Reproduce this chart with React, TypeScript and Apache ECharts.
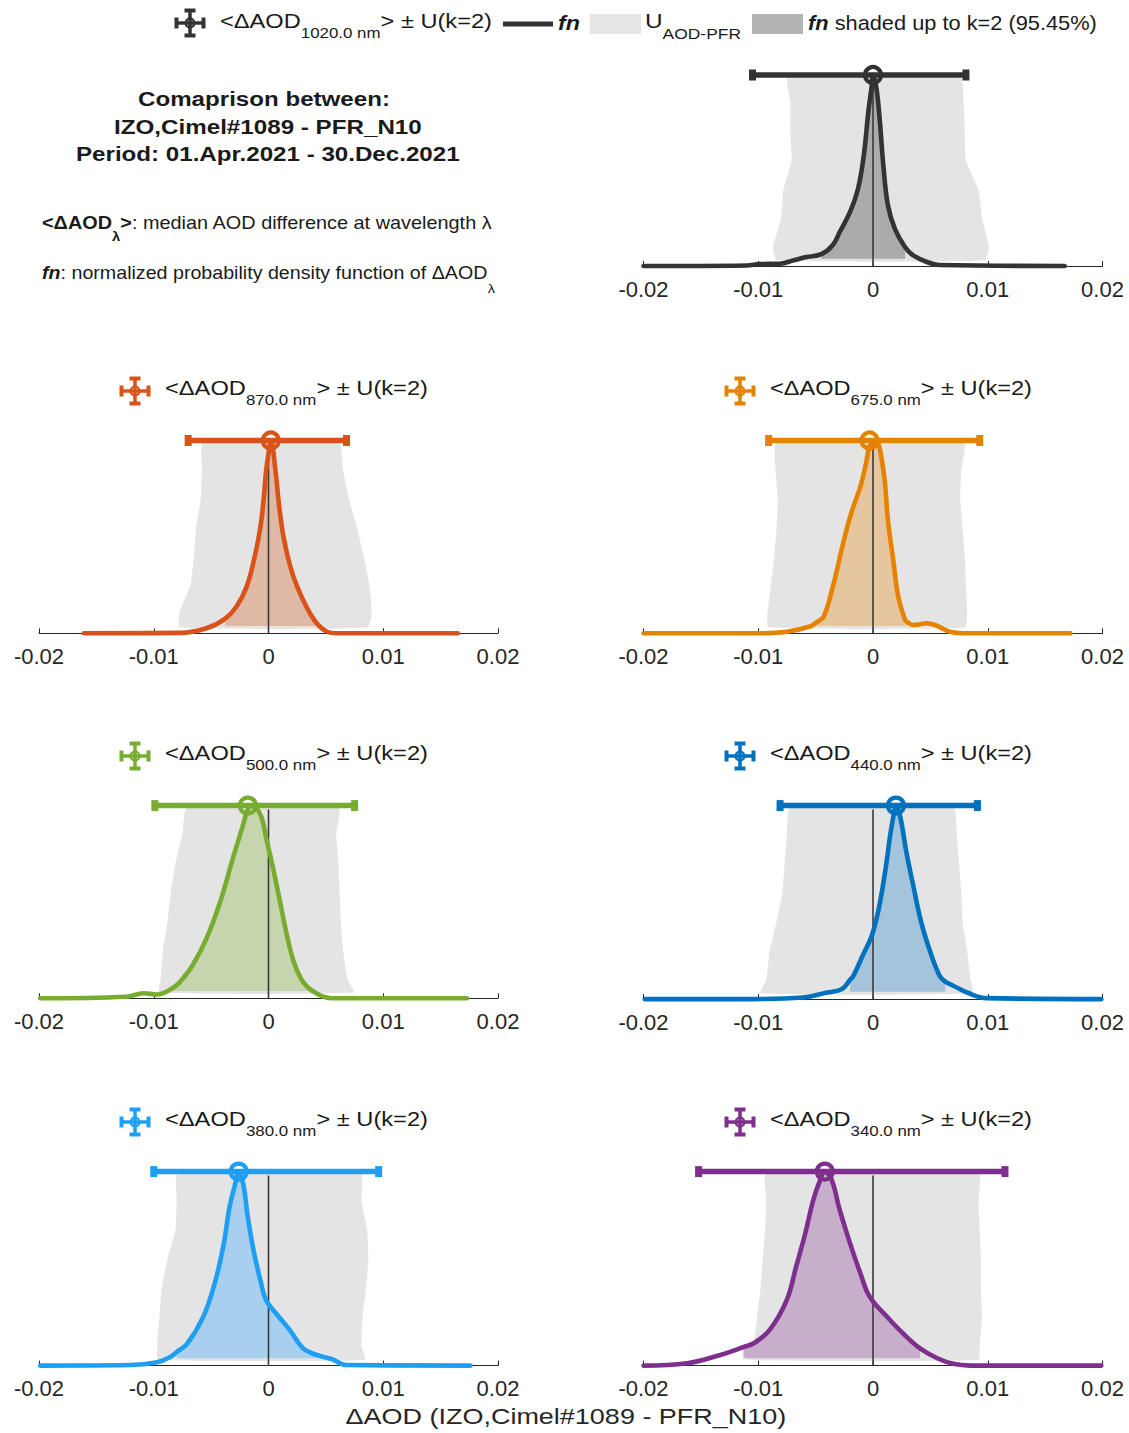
import React, { useEffect, useRef } from 'react';
import * as echarts from 'echarts';

// ---------------- data ----------------
const wavelengths = ['1020.0', '870.0', '675.0', '500.0', '440.0', '380.0', '340.0'];
const xTickLabels = ['-0.02', '-0.01', '0', '0.01', '0.02'];
const X_MIN = -0.02;
const X_MAX = 0.02;
const X_STEP = 0.01;

// median AOD difference and U(k=2) limits
const medianDAOD = [0.0, 0.0002, -0.0003, -0.0018, 0.002, -0.0026, -0.0042];
const uLow = [-0.0105, -0.007, -0.0091, -0.0099, -0.0081, -0.01, -0.0152];
const uHigh = [0.0081, 0.0068, 0.0093, 0.0075, 0.0091, 0.0096, 0.0115];
// fn shaded up to k=2 (95.45 %)
const k2Low = [-0.0045, -0.0038, -0.0049, -0.0083, -0.002, -0.008, -0.0113];
const k2High = [0.0028, 0.0042, 0.003, 0.004, 0.0063, 0.0055, 0.0041];
const FILL_BASE = 0.038;
const ERR_Y = 1;
const ZERO_REF = 0;
const ZERO_TOP = 0.98;

// normalized pdf curves [dAOD, fn]
const fn1020 = [[-0.02, 0], [-0.011, 0.003], [-0.0099, 0.01], [-0.0081, 0.012], [-0.0069, 0.03], [-0.0058, 0.047], [-0.0045, 0.062], [-0.0035, 0.11], [-0.0029, 0.178], [-0.002, 0.283], [-0.0013, 0.406], [-0.0008, 0.58], [-0.0004, 0.81], [-0.0001, 0.948], [0.0, 1.0], [0.0003, 0.93], [0.0006, 0.755], [0.0009, 0.528], [0.0013, 0.318], [0.0019, 0.196], [0.0028, 0.098], [0.0035, 0.056], [0.0047, 0.021], [0.0058, 0.005], [0.0167, 0]];
const fn870 = [[-0.0161, 0], [-0.0077, 0.002], [-0.0054, 0.026], [-0.0038, 0.075], [-0.0028, 0.138], [-0.0019, 0.242], [-0.0012, 0.398], [-0.0007, 0.553], [-0.0004, 0.709], [-0.0002, 0.848], [0.0001, 0.97], [0.0002, 1.0], [0.0006, 0.848], [0.0009, 0.675], [0.0013, 0.502], [0.0019, 0.346], [0.0025, 0.242], [0.0033, 0.138], [0.0042, 0.052], [0.0051, 0.008], [0.0059, 0], [0.0165, 0]];
const fn675 = [[-0.02, 0], [-0.0099, 0], [-0.0075, 0.008], [-0.0055, 0.035], [-0.0049, 0.058], [-0.0043, 0.086], [-0.0035, 0.242], [-0.0026, 0.467], [-0.0019, 0.623], [-0.0011, 0.761], [-0.0006, 0.883], [-0.0003, 0.969], [0.0002, 1.0], [0.0009, 0.848], [0.0013, 0.588], [0.0018, 0.363], [0.0022, 0.19], [0.0028, 0.069], [0.003, 0.058], [0.0035, 0.043], [0.0047, 0.052], [0.0056, 0.038], [0.0067, 0.008], [0.0079, 0], [0.0172, 0]];
const fn500 = [[-0.0199, 0], [-0.0124, 0.008], [-0.0109, 0.026], [-0.0097, 0.02], [-0.0089, 0.034], [-0.0083, 0.055], [-0.0077, 0.086], [-0.0066, 0.173], [-0.0054, 0.311], [-0.0042, 0.502], [-0.0031, 0.727], [-0.0023, 0.883], [-0.0018, 0.98], [-0.0015, 1.0], [-0.0007, 0.952], [-0.0002, 0.831], [0.0004, 0.675], [0.001, 0.502], [0.0016, 0.329], [0.0022, 0.19], [0.003, 0.086], [0.004, 0.032], [0.0056, 0], [0.0173, 0]];
const fn440 = [[-0.0199, 0], [-0.0104, 0], [-0.0061, 0.008], [-0.004, 0.034], [-0.0027, 0.052], [-0.002, 0.1], [-0.0017, 0.121], [-0.0009, 0.225], [-0.0001, 0.329], [0.0005, 0.467], [0.0011, 0.675], [0.0015, 0.848], [0.0018, 0.952], [0.002, 1.0], [0.0024, 0.935], [0.0029, 0.762], [0.0035, 0.589], [0.0042, 0.398], [0.005, 0.242], [0.0058, 0.121], [0.0063, 0.09], [0.007, 0.069], [0.0082, 0.034], [0.0099, 0.005], [0.0199, 0]];
const fn380 = [[-0.0199, 0], [-0.0121, 0.003], [-0.0097, 0.017], [-0.0086, 0.043], [-0.008, 0.07], [-0.0071, 0.112], [-0.0057, 0.25], [-0.0047, 0.421], [-0.0039, 0.627], [-0.0034, 0.816], [-0.0029, 0.936], [-0.0026, 1.0], [-0.0022, 0.936], [-0.0018, 0.764], [-0.0013, 0.593], [-0.0007, 0.438], [-0.0002, 0.335], [0.0007, 0.266], [0.0019, 0.18], [0.003, 0.09], [0.0042, 0.055], [0.0055, 0.034], [0.0068, 0.003], [0.0176, 0]];
const fn340 = [[-0.02, 0], [-0.0162, 0.012], [-0.0133, 0.055], [-0.0113, 0.095], [-0.0104, 0.115], [-0.009, 0.184], [-0.0075, 0.34], [-0.0067, 0.51], [-0.0059, 0.682], [-0.0052, 0.854], [-0.0046, 0.957], [-0.0042, 1.0], [-0.0036, 0.957], [-0.0029, 0.802], [-0.002, 0.63], [-0.0011, 0.476], [-0.0003, 0.356], [0.0012, 0.253], [0.0026, 0.167], [0.0041, 0.089], [0.0056, 0.038], [0.007, 0.009], [0.0085, 0], [0.0199, 0]];

// U_AOD-PFR band: left / right limits at levels bandY
const bandY = [0.03, 0.1, 0.25, 0.4, 0.55, 0.7, 0.85, 0.99];
const uLeft1020 = [-0.0084, -0.0087, -0.008, -0.0078, -0.0071, -0.0072, -0.0072, -0.0074];
const uRight1020 = [0.0097, 0.0101, 0.0095, 0.0092, 0.0081, 0.008, 0.0079, 0.0076];
const uLeft870 = [-0.0077, -0.0078, -0.0068, -0.0065, -0.0063, -0.0059, -0.0058, -0.0057];
const uRight870 = [0.0086, 0.009, 0.0088, 0.0083, 0.0077, 0.007, 0.0065, 0.0061];
const uLeft675 = [-0.0091, -0.0092, -0.0089, -0.0086, -0.0084, -0.0083, -0.0085, -0.0084];
const uRight675 = [0.008, 0.0082, 0.0081, 0.008, 0.0078, 0.0076, 0.0077, 0.0079];
const uLeft500 = [-0.0095, -0.0094, -0.0092, -0.0088, -0.0085, -0.0081, -0.0075, -0.0071];
const uRight500 = [0.0074, 0.0069, 0.0065, 0.0063, 0.0062, 0.0061, 0.0059, 0.0061];
const uLeft440 = [-0.0098, -0.0093, -0.009, -0.0084, -0.0079, -0.0077, -0.0075, -0.0072];
const uRight440 = [0.0087, 0.0085, 0.0082, 0.0078, 0.0077, 0.0075, 0.0073, 0.007];
const uLeft380 = [-0.0096, -0.0097, -0.0095, -0.0093, -0.0088, -0.0081, -0.008, -0.0079];
const uRight380 = [0.0084, 0.0081, 0.0082, 0.0085, 0.0087, 0.0086, 0.0081, 0.008];
const uLeft340 = [-0.0111, -0.0104, -0.0101, -0.0098, -0.0096, -0.0094, -0.0093, -0.0093];
const uRight340 = [0.0092, 0.0093, 0.0095, 0.0094, 0.0094, 0.0093, 0.0092, 0.0092];

const curves = [fn1020, fn870, fn675, fn500, fn440, fn380, fn340];
const bandsL = [uLeft1020, uLeft870, uLeft675, uLeft500, uLeft440, uLeft380, uLeft340];
const bandsR = [uRight1020, uRight870, uRight675, uRight500, uRight440, uRight380, uRight340];

// ---------------- styles / layout ----------------
const colors = ['#333333', '#D95319', '#E58300', '#77AC30', '#0072BD', '#1E9FF2', '#7E2F8E'];
const fillColors = ['#ababab', '#e0b9a6', '#e6c69f', '#c5d6ae', '#a4c4db', '#a8d0ee', '#c7afcb'];
const U_COLOR = '#e4e4e4';
const TXT = '#1a1a1a';
const AX = '#262626';
const FONT = '"Liberation Sans", Arial, Helvetica, sans-serif';
const SMOOTH = 0.4;

const COL_X = [39, 643.5];
const PANEL_W = 459;
const panels = [
  { col: 1, top: 75, h: 191 },
  { col: 0, top: 440.5, h: 192.8 },
  { col: 1, top: 440.5, h: 192.8 },
  { col: 0, top: 805.6, h: 192.7 },
  { col: 1, top: 805.6, h: 193.5 },
  { col: 0, top: 1171.6, h: 194 },
  { col: 1, top: 1171.6, h: 194 },
];
const titleLayout = [
  { ix: 190, iy: 23, tx: 220, ty: 21, tw: 272 },
  { ix: 135, iy: 391, tx: 165, ty: 388, tw: 263 },
  { ix: 740, iy: 391, tx: 770, ty: 388, tw: 262 },
  { ix: 135, iy: 756, tx: 165, ty: 753, tw: 263 },
  { ix: 740, iy: 756, tx: 770, ty: 753, tw: 262 },
  { ix: 135, iy: 1122, tx: 165, ty: 1119, tw: 263 },
  { ix: 740, iy: 1122, tx: 770, ty: 1119, tw: 262 },
];

// ---------------- helpers ----------------
let _ctx: CanvasRenderingContext2D | null = null;
function textWidth(t: string, size: number, bold?: boolean, italic?: boolean) {
  if (!_ctx) _ctx = document.createElement('canvas').getContext('2d');
  _ctx!.font = `${italic ? 'italic ' : ''}${bold ? 'bold ' : ''}${size}px ${FONT}`;
  return _ctx!.measureText(t).width;
}
type Frag = { t: string; s: number; b?: boolean; i?: boolean; dy?: number };
function row(frags: Frag[], x: number, y: number, width: number | null, align: 'left' | 'center' = 'left', fill = TXT) {
  let cx = 0;
  const children: any[] = [];
  for (const f of frags) {
    children.push({
      type: 'text',
      x: cx,
      y: f.dy || 0,
      silent: true,
      style: {
        text: f.t,
        fontSize: f.s,
        fontFamily: FONT,
        fontWeight: f.b ? 'bold' : 'normal',
        fontStyle: f.i ? 'italic' : 'normal',
        fill,
        align: 'left',
        textAlign: 'left',
        verticalAlign: 'middle',
        textVerticalAlign: 'middle',
      },
    });
    cx += textWidth(f.t, f.s, f.b, f.i);
  }
  const w = width ?? cx;
  const sx = w / cx;
  const left = align === 'center' ? x - w / 2 : x;
  return { type: 'group', x: left, y, scaleX: sx, children, silent: true };
}
function icon(cx: number, cy: number, c: string) {
  const ln = (x1: number, y1: number, x2: number, y2: number, w = 3.5) => ({
    type: 'line',
    shape: { x1, y1, x2, y2 },
    style: { stroke: c, lineWidth: w },
  });
  return {
    type: 'group',
    x: cx,
    y: cy,
    silent: true,
    children: [
      ln(-14, 0, 14, 0),
      ln(0, -13, 0, 13),
      ln(-13.5, -5.5, -13.5, 5.5, 4),
      ln(13.5, -5.5, 13.5, 5.5, 4),
      ln(-5.5, -12.5, 5.5, -12.5, 4),
      ln(-5.5, 12.5, 5.5, 12.5, 4),
      { type: 'circle', shape: { cx: 0, cy: 0, r: 4.5 }, style: { fill: 'none', stroke: c, lineWidth: 2.2 } },
    ],
  };
}

function buildOption() {
  const grid: any[] = [];
  const xAxis: any[] = [];
  const yAxis: any[] = [];
  const series: any[] = [];
  panels.forEach((p, i) => {
    grid.push({ left: COL_X[p.col], top: p.top, width: PANEL_W, height: p.h, outerBoundsMode: 'none', containLabel: false });
    xAxis.push({
      type: 'value',
      gridIndex: i,
      min: X_MIN,
      max: X_MAX,
      interval: X_STEP,
      splitLine: { show: false },
      axisLine: { show: true, onZero: false, lineStyle: { color: AX, width: 1 } },
      axisTick: { show: true, inside: true, length: 5, lineStyle: { color: AX, width: 1 } },
      axisLabel: {
        show: true,
        margin: 12,
        fontSize: 22,
        fontFamily: FONT,
        color: AX,
        formatter: (v: number, idx: number) => xTickLabels[idx] ?? String(v),
      },
    });
    yAxis.push({ type: 'value', gridIndex: i, min: 0, max: 1, show: false, splitLine: { show: false } });

    // U_AOD-PFR band
    series.push({
      type: 'custom',
      xAxisIndex: i,
      yAxisIndex: i,
      z: 1,
      silent: true,
      clip: false,
      data: [[0, 0]],
      renderItem: (params: any, api: any) => {
        const L = bandsL[i];
        const R = bandsR[i];
        const pts: number[][] = [];
        for (let k = 0; k < bandY.length; k++) pts.push(api.coord([L[k], bandY[k]]));
        for (let k = bandY.length - 1; k >= 0; k--) pts.push(api.coord([R[k], bandY[k]]));
        return { type: 'polygon', shape: { points: pts, smooth: 0.15 }, style: { fill: U_COLOR } };
      },
    });
    // fn shaded up to k=2
    series.push({
      type: 'line',
      xAxisIndex: i,
      yAxisIndex: i,
      z: 2,
      silent: true,
      clip: false,
      smooth: SMOOTH,
      symbol: 'none',
      showSymbol: false,
      data: curves[i].filter((pt) => pt[0] >= k2Low[i] && pt[0] <= k2High[i]),
      lineStyle: { width: 0, opacity: 0 },
      areaStyle: { color: fillColors[i], opacity: 1, origin: FILL_BASE },
    });
    // zero reference line
    series.push({
      type: 'custom',
      xAxisIndex: i,
      yAxisIndex: i,
      z: 3,
      silent: true,
      clip: false,
      data: [[ZERO_REF, ZERO_TOP]],
      renderItem: (params: any, api: any) => {
        const a = api.coord([api.value(0), 0]);
        const b = api.coord([api.value(0), api.value(1)]);
        return { type: 'line', shape: { x1: a[0], y1: a[1], x2: b[0], y2: b[1] }, style: { stroke: '#3a3a3a', lineWidth: 1.6 } };
      },
    });
    // fn curve
    series.push({
      type: 'line',
      xAxisIndex: i,
      yAxisIndex: i,
      z: 4,
      silent: true,
      clip: false,
      smooth: SMOOTH,
      symbol: 'none',
      showSymbol: false,
      data: curves[i],
      lineStyle: { color: colors[i], width: 4.6, cap: 'round', join: 'round' },
    });
    // median +- U(k=2)
    series.push({
      type: 'custom',
      xAxisIndex: i,
      yAxisIndex: i,
      z: 5,
      silent: true,
      clip: false,
      data: [[medianDAOD[i], uLow[i], uHigh[i], ERR_Y]],
      renderItem: (params: any, api: any) => {
        const y = api.value(3);
        const lo = api.coord([api.value(1), y]);
        const hi = api.coord([api.value(2), y]);
        const m = api.coord([api.value(0), y]);
        const c = colors[i];
        return {
          type: 'group',
          children: [
            { type: 'line', shape: { x1: lo[0], y1: lo[1], x2: hi[0], y2: hi[1] }, style: { stroke: c, lineWidth: 5.5 } },
            { type: 'rect', shape: { x: lo[0] - 3.5, y: lo[1] - 5.5, width: 7, height: 11 }, style: { fill: c } },
            { type: 'rect', shape: { x: hi[0] - 3.5, y: hi[1] - 5.5, width: 7, height: 11 }, style: { fill: c } },
            { type: 'circle', shape: { cx: m[0], cy: m[1], r: 8 }, style: { fill: 'none', stroke: c, lineWidth: 4.2 } },
          ],
        };
      },
    });
  });

  const graphic: any[] = [];
  // panel titles / legend entries
  titleLayout.forEach((t, i) => {
    graphic.push(icon(t.ix, t.iy, colors[i]));
    graphic.push(
      row(
        [
          { t: '<ΔAOD', s: 21 },
          { t: `${wavelengths[i]} nm`, s: 15, dy: 11.5 },
          { t: '> ± U(k=2)', s: 21 },
        ],
        t.tx,
        t.ty,
        t.tw
      )
    );
  });
  // top legend extras
  graphic.push({ type: 'line', silent: true, shape: { x1: 503, y1: 24, x2: 553, y2: 24 }, style: { stroke: colors[0], lineWidth: 5 } });
  graphic.push(row([{ t: 'fn', s: 21, b: true, i: true }], 558, 23, 22));
  graphic.push({ type: 'rect', silent: true, shape: { x: 590, y: 14, width: 51, height: 20 }, style: { fill: '#e6e6e6' } });
  graphic.push(row([{ t: 'U', s: 21 }, { t: 'AOD-PFR', s: 15, dy: 12 }], 645, 21, 96));
  graphic.push({ type: 'rect', silent: true, shape: { x: 752, y: 14, width: 51, height: 20 }, style: { fill: '#b3b3b3' } });
  graphic.push(row([{ t: 'fn', s: 21, b: true, i: true }, { t: ' shaded up to k=2 (95.45%)', s: 21 }], 808, 23, 289));

  // title block
  graphic.push(row([{ t: 'Comaprison between:', s: 21, b: true }], 264, 99, 252, 'center'));
  graphic.push(row([{ t: 'IZO,Cimel#1089 - PFR_N10', s: 21, b: true }], 268, 126.5, 308, 'center'));
  graphic.push(row([{ t: 'Period: 01.Apr.2021 - 30.Dec.2021', s: 21, b: true }], 268, 154, 384, 'center'));
  graphic.push(
    row(
      [
        { t: '<ΔAOD', s: 17.5, b: true },
        { t: 'λ', s: 13, b: true, dy: 13 },
        { t: '>', s: 17.5, b: true },
        { t: ': median AOD difference at wavelength λ', s: 17.5 },
      ],
      42,
      223,
      451
    )
  );
  graphic.push(
    row(
      [
        { t: 'fn', s: 17.5, b: true, i: true },
        { t: ': normalized probability density function of ΔAOD', s: 17.5 },
        { t: 'λ', s: 13, dy: 15 },
      ],
      42,
      273,
      453
    )
  );
  // x label
  graphic.push(row([{ t: 'ΔAOD (IZO,Cimel#1089 - PFR_N10)', s: 22 }], 566, 1416, 441, 'center', AX));

  return {
    animation: false,
    backgroundColor: '#ffffff',
    grid,
    xAxis,
    yAxis,
    series,
    graphic,
  };
}

export default function App() {
  const ref = useRef<HTMLDivElement | null>(null);
  useEffect(() => {
    if (!ref.current) return;
    const chart = echarts.init(ref.current, null, { renderer: 'svg' });
    chart.setOption(buildOption() as any);
    return () => chart.dispose();
  }, []);
  return (
    <div
      ref={ref}
      style={{ position: 'absolute', left: 0, top: 0, width: 1129, height: 1433, background: '#fff' }}
    />
  );
}
